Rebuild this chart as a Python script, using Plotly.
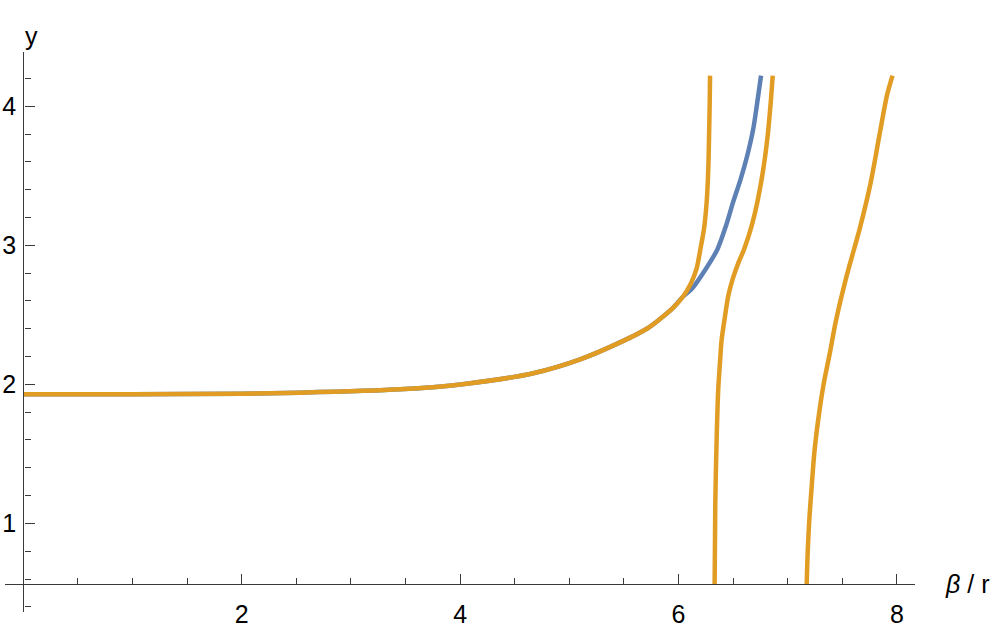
import plotly.graph_objects as go

# shared low branch (x = beta / r, y)
x_low = [0.0, 1.0, 2.0, 2.53, 3.45, 4.06, 4.67, 5.10, 5.46, 5.71, 5.83, 5.95, 6.04]
y_low = [1.928, 1.929, 1.933, 1.94, 1.964, 2.005, 2.08, 2.18, 2.30, 2.40, 2.47, 2.55, 2.63]

# blue continuation
x_blue = [6.12, 6.25, 6.356, 6.435, 6.50, 6.57, 6.63, 6.685, 6.722, 6.756]
y_blue = [2.685, 2.83, 2.97, 3.141, 3.31, 3.478, 3.646, 3.839, 4.031, 4.22]

# orange branches
x_or1 = [6.11, 6.165, 6.20, 6.234, 6.258, 6.273, 6.28, 6.286, 6.289]
y_or1 = [2.72, 2.83, 2.97, 3.12, 3.31, 3.55, 3.79, 4.03, 4.22]

x_or2 = [6.331, 6.337, 6.350, 6.364, 6.38, 6.395, 6.426, 6.456, 6.496,
         6.55, 6.60, 6.67, 6.722, 6.777, 6.817, 6.845, 6.863]
y_or2 = [0.56, 1.147, 1.627, 1.964, 2.156, 2.32, 2.49, 2.637, 2.757,
         2.877, 2.97, 3.14, 3.31, 3.55, 3.79, 4.03, 4.22]

x_or3 = [7.174, 7.183, 7.198, 7.220, 7.244, 7.280, 7.326, 7.387, 7.44,
         7.54, 7.66, 7.76, 7.84, 7.91, 7.96]
y_or3 = [0.558, 0.787, 1.027, 1.267, 1.508, 1.748, 1.988, 2.229, 2.45,
         2.78, 3.12, 3.45, 3.79, 4.08, 4.22]

x_ticks = [2, 4, 6, 8]
y_ticks = [1, 2, 3, 4]

BLUE = "#5E81B5"
ORANGE = "#E19C24"
AXIS = "#3a3a3a"
FONT = "Liberation Sans, Arial, sans-serif"

x_range = [-0.168, 8.166]
y_range = [0.363, 4.39]
x_cross = 0.563  # y value where the horizontal axis sits

fig = go.Figure()

line = dict(width=4.5, shape="spline", smoothing=0.8)
fig.add_trace(go.Scatter(x=x_low + x_blue, y=y_low + y_blue, mode="lines",
                         line=dict(color=BLUE, **line), hoverinfo="skip"))
fig.add_trace(go.Scatter(x=x_low + x_or1, y=y_low + y_or1, mode="lines",
                         line=dict(color=ORANGE, **line), hoverinfo="skip"))
fig.add_trace(go.Scatter(x=x_or2, y=y_or2, mode="lines",
                         line=dict(color=ORANGE, **line), hoverinfo="skip"))
fig.add_trace(go.Scatter(x=x_or3, y=y_or3, mode="lines",
                         line=dict(color=ORANGE, **line), hoverinfo="skip"))

fig.update_layout(
    width=997, height=632,
    margin=dict(l=5, r=82, t=52, b=20, autoexpand=False),
    paper_bgcolor="white", plot_bgcolor="white",
    showlegend=False,
    font=dict(family=FONT, size=25, color="black"),
    xaxis=dict(
        range=x_range, anchor="free", automargin=False,
        position=(x_cross - y_range[0]) / (y_range[1] - y_range[0]),
        showgrid=False, zeroline=False,
        showline=True, linecolor=AXIS, linewidth=1.4,
        tickmode="array", tickvals=x_ticks,
        ticks="inside", ticklen=10, tickwidth=1.2, tickcolor=AXIS,
        ticklabelstandoff=8,
        minor=dict(ticks="inside", ticklen=6, tickwidth=1, tickcolor=AXIS,
                   tick0=0, dtick=0.5, showgrid=False),
    ),
    yaxis=dict(
        range=y_range, anchor="free", automargin=False,
        position=(0 - x_range[0]) / (x_range[1] - x_range[0]),
        showgrid=False, zeroline=False,
        showline=True, linecolor=AXIS, linewidth=1.4,
        tickmode="array", tickvals=y_ticks,
        ticks="inside", ticklen=10, tickwidth=1.2, tickcolor=AXIS,
        ticklabelstandoff=2,
        minor=dict(ticks="inside", ticklen=6, tickwidth=1, tickcolor=AXIS,
                   tick0=0, dtick=0.2, showgrid=False),
    ),
    annotations=[
        dict(text="y", xref="paper", yref="paper",
             x=(0 - x_range[0]) / (x_range[1] - x_range[0]), y=1.0,
             yshift=32, showarrow=False, font=dict(size=25, family=FONT)),
        dict(text="<i>β</i> / r", xref="paper", yref="y", x=1.0,
             y=x_cross, xanchor="left", xshift=28, showarrow=False,
             font=dict(size=25, family=FONT)),
    ],
)

# drop the browser's default 8px body margin so the figure sits at (0, 0)
fig.write_html("out.html", config={"displayModeBar": False},
               post_script="document.body.style.margin='0';")
